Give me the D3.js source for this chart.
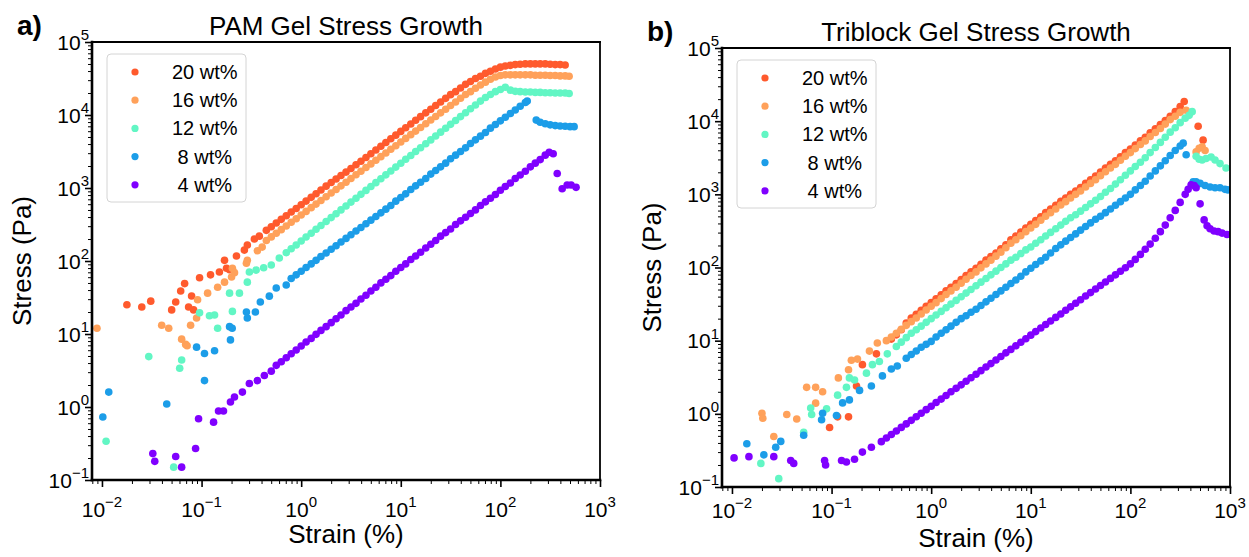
<!DOCTYPE html>
<html>
<head>
<meta charset="utf-8">
<script src="https://cdn.jsdelivr.net/npm/d3@7"></script>
<style>
  body { margin: 0; background: #fff; }
  svg { display: block; font-family: "Liberation Sans", Arial, sans-serif; }
</style>
</head>
<body>
<svg id="chart" width="1249" height="557"></svg>
<script>
// [strain %, stress Pa]
const pam20 = [[0.0178,25.1],[0.0251,23.4],[0.0309,28.2],[0.0501,21.4],[0.055,27.5],[0.0617,38.9],[0.0676,49],[0.0741,23.4],[0.0794,33.1],[0.0832,21.4],[0.0955,58.9],[0.123,64.6],[0.151,70.8],[0.17,102],[0.178,79.4],[0.191,75.9],[0.224,117],[0.269,141],[0.288,166],[0.339,200],[0.38,219],
  [0.447,263],[0.501,295],[0.562,331],[0.631,372],[0.708,417],[0.794,468],[0.891,525],[1,589],[1.12,662],[1.26,745],[1.41,835],[1.58,940],[1.78,1060],[2,1190],[2.24,1330],[2.51,1480],[2.82,1650],[3.16,1850],[3.55,2080],[3.98,2330],[4.47,2620],[5.01,2950],[5.62,3320],[6.31,3740],[7.08,4200],[7.94,4720],[8.91,5300],[10,5960],[11.2,6700],[12.6,7540],[14.1,8460],[15.8,9500],[17.8,10700],[20,12000],[22.4,13500],[25.1,15100],[28.2,16900],[31.6,19000],
  [35.5,20900],[39.8,23400],[44.7,26300],[50.1,28800],[56.2,31600],[63.1,33900],[70.8,37200],[79.4,39800],[89.1,42700],[100,45200],[112,46800],[126,47900],[141,49000],[158,49500],[178,50100],[200,50100],[224,50100],[251,50100],[282,50100],[316,49500],[355,49000],[398,49000],[447,48400]];
const pam16 = [[0.00891,12],[0.0398,13.2],[0.0468,12],[0.0631,8.5],[0.0692,7.2],[0.0716,6.9],[0.0776,13.2],[0.0891,16.6],[0.0912,29.5],[0.115,36.3],[0.145,43.7],[0.17,51.3],[0.2,60.3],[0.204,79.4],[0.214,69.2],[0.282,93.3],[0.288,102],[0.363,138],[0.406,155],
  [0.447,191],[0.501,214],[0.562,240],[0.631,269],[0.708,302],[0.794,339],[0.891,380],[1,427],[1.12,478],[1.26,538],[1.41,602],[1.58,675],[1.78,760],[2,854],[2.24,956],[2.51,1070],[2.82,1200],[3.16,1350],[3.55,1520],[3.98,1700],[4.47,1910],[5.01,2140],[5.62,2400],[6.31,2690],[7.08,3020],[7.94,3390],[8.91,3800],[10,4270],[11.2,4780],[12.6,5380],[14.1,6020],[15.8,6750],[17.8,7600],[20,8540],[22.4,9560],[25.1,10700],[28.2,12000],[31.6,13500],
  [35.5,15100],[39.8,17000],[44.7,19100],[50.1,20900],[56.2,23200],[63.1,25700],[70.8,28200],[79.4,30900],[89.1,33100],[100,34700],[112,35500],[126,35500],[141,35500],[158,35500],[178,35500],[200,35500],[224,35100],[251,35100],[282,35100],[316,34700],[355,34700],[398,34300],[447,34300],[490,33900]];
const pam12 = [[0.011,0.34],[0.0295,4.9],[0.0525,0.15],[0.0603,3.4],[0.0631,4.4],[0.0955,19.5],[0.12,17.8],[0.135,18.2],[0.145,12],[0.191,36.3],[0.204,20.4],[0.24,36.3],[0.288,51.3],[0.302,70.8],[0.353,75],[0.42,81],[0.501,88],[0.603,110],
  [0.708,130],[0.794,147],[0.891,166],[1,188],[1.12,213],[1.26,240],[1.41,272],[1.58,307],[1.78,348],[2,393],[2.24,444],[2.51,501],[2.82,568],[3.16,641],[3.55,725],[3.98,819],[4.47,927],[5.01,1047],[5.62,1183],[6.31,1337],[7.08,1514],[7.94,1710],[8.91,1932],[10,2183],[11.2,2472],[12.6,2793],[14.1,3155],[15.8,3565],[17.8,4036],[20,4560],[22.4,5152],[25.1,5821],[28.2,6592],[31.6,7447],[35.5,8414],[39.8,9506],[44.7,10760],[50.1,12160],[56.2,13740],[63.1,15500],[70.8,17400],[79.4,19100],[89.1,20900],[100,22400],[112,24000],
  [126,21900],[141,21100],[158,20900],[178,20700],[200,20700],[224,20400],[251,20400],[282,20200],[316,20200],[355,20000],[398,20000],[447,20000],[490,19700]];
const pam8 = [[0.0102,0.73],[0.0117,1.6],[0.0447,1.1],[0.0891,6.6],[0.107,5.4],[0.135,5.9],[0.107,2.3],[0.191,12.6],[0.195,8.3],[0.203,12],[0.282,20],[0.288,16.6],[0.347,20],[0.389,27.5],[0.479,33],[0.562,42.7],[0.708,46.8],
  [0.794,57.5],[0.891,64.6],[1,72.4],[1.12,81.3],[1.26,91.2],[1.41,102],[1.58,115],[1.78,129],[2,145],[2.24,162],[2.51,182],[2.82,204],[3.16,229],[3.55,257],[3.98,288],[4.47,324],[5.01,363],[5.62,407],[6.31,457],[7.08,513],[7.94,575],[8.91,661],[10,741],[11.2,832],[12.6,955],[14.1,1070],[15.8,1200],[17.8,1350],[20,1550],[22.4,1740],[25.1,1950],[28.2,2190],[31.6,2510],[35.5,2820],[39.8,3160],[44.7,3550],[50.1,4070],[56.2,4570],[63.1,5130],[70.8,5750],[79.4,6610],[89.1,7410],[100,8320],[112,9330],[126,10500],[141,11700],[158,13200],[178,14800],[186,15500],
  [229,8510],[251,7940],[282,7590],[316,7330],[355,7160],[398,7080],[447,7000],[501,6920],[550,6920]];
const pam4 = [[0.0324,0.23],[0.0339,0.18],[0.055,0.21],[0.0631,0.15],[0.0871,0.27],[0.0933,0.69],[0.132,0.62],[0.148,0.88],[0.166,0.88],[0.195,1.17],[0.214,1.37],[0.257,1.6],[0.302,2.1],[0.363,2.3],[0.427,2.7],[0.501,3.1],
  [0.562,3.72],[0.631,4.17],[0.708,4.73],[0.794,5.37],[0.891,6.03],[1,6.84],[1.12,7.76],[1.26,8.71],[1.41,9.89],[1.58,11.2],[1.78,12.6],[2,14.3],[2.24,16.2],[2.51,18.2],[2.82,20.9],[3.16,23.4],[3.55,26.3],[3.98,30.2],[4.47,33.9],[5.01,38.9],[5.62,43.7],[6.31,50.1],[7.08,56.2],[7.94,63.1],[8.91,72.4],[10,81.3],[11.2,91.2],[12.6,105],[14.1,117],[15.8,132],[17.8,151],[20,170],[22.4,191],[25.1,219],[28.2,245],[31.6,275],[35.5,316],[39.8,355],[44.7,398],[50.1,447],[56.2,501],[63.1,575],[70.8,646],[79.4,724],[89.1,813],[100,933],[112,1050],[126,1170],[141,1350],[158,1510],[178,1700],[200,1950],[224,2190],[251,2450],[282,2820],[309,3090],[339,2950],
  [372,1580],[417,977],[468,1100],[513,1100],[575,1020]];

const tri20 = [[0.0955,0.65],[0.115,0.91],[0.148,0.91],[0.178,2.4],[0.204,4.7],[0.282,6.6],
  [0.398,10.5],[0.447,12],[0.501,14.1],[0.562,17.4],[0.631,20.4],[0.708,22.9],[0.794,26],[0.891,29.5],[1,33.1],[1.12,37.2],[1.26,42.2],[1.41,47.9],[1.58,53.7],[1.78,60.3],[2,68.4],[2.24,77.6],[2.51,87.1],[2.82,97.7],[3.16,111],[3.55,126],[3.98,141],[4.47,158],[5.01,180],[5.62,204],[6.31,240],[7.08,269],[7.94,305],[8.91,347],[10,389],[11.2,437],[12.6,495],[14.1,562],[15.8,631],[17.8,708],[20,804],[22.4,891],[25.1,1000],[28.2,1110],[31.6,1240],[35.5,1410],[39.8,1580],[44.7,1780],[50.1,2020],[56.2,2290],[63.1,2570],[70.8,2880],[79.4,3270],[89.1,3720],[100,4170],[112,4730],[126,5370],[141,6030],[158,6920],[178,7850],[200,9020],[224,10200],[251,11700],[282,13500],[316,15800],[347,18600],
  [479,8510],[537,5500]];
const tri16 = [[0.02,1.02],[0.0204,0.87],[0.0263,0.49],[0.0355,0.98],[0.0447,0.85],[0.0562,2.3],[0.0692,2.3],[0.0692,1.4],[0.0813,2],[0.117,3.1],[0.148,4],[0.158,5.4],[0.182,5.6],[0.24,7.2],[0.288,9.3],[0.355,10],
  [0.398,11.2],[0.447,12.6],[0.501,14.3],[0.562,16.2],[0.631,18.2],[0.708,20.4],[0.794,23.2],[0.891,26.3],[1,29.5],[1.12,33.1],[1.26,37.6],[1.41,42.7],[1.58,47.9],[1.78,53.7],[2,61],[2.24,69.2],[2.51,77.6],[2.82,87.1],[3.16,98.9],[3.55,112],[3.98,126],[4.47,143],[5.01,162],[5.62,186],[6.31,214],[7.08,240],[7.94,272],[8.91,309],[10,347],[11.2,389],[12.6,442],[14.1,501],[15.8,562],[17.8,631],[20,716],[22.4,794],[25.1,891],[28.2,1000],[31.6,1110],[35.5,1260],[39.8,1410],[44.7,1580],[50.1,1800],[56.2,2040],[63.1,2290],[70.8,2570],[79.4,2920],[89.1,3310],[100,3720],[112,4220],[126,4790],[141,5370],[158,6170],[178,7000],[200,7940],[224,9120],[251,10500],[282,11700],[316,13200],[363,14100],
  [457,3800],[490,4270],[525,4470],[562,3980]];
const tri12 = [[0.0195,0.21],[0.0295,0.13],[0.0525,0.56],[0.0617,1.2],[0.0631,0.98],[0.0891,1.17],[0.115,1.8],[0.141,2.3],[0.151,3.1],[0.17,2.9],[0.224,3.6],[0.257,4.7],[0.302,5.2],[0.363,6.6],
  [0.447,8.32],[0.501,9.55],[0.562,11],[0.631,12.6],[0.708,14.1],[0.794,15.8],[0.891,17.8],[1,20],[1.12,22.4],[1.26,25.1],[1.41,28.2],[1.58,31.6],[1.78,35.5],[2,39.8],[2.24,44.7],[2.51,50.1],[2.82,56.2],[3.16,63.1],[3.55,70.8],[3.98,79.4],[4.47,89.1],[5.01,100],[5.62,112],[6.31,126],[7.08,138],[7.94,155],[8.91,174],[10,191],[11.2,214],[12.6,240],[14.1,269],[15.8,302],[17.8,339],[20,380],[22.4,427],[25.1,479],[28.2,525],[31.6,589],[35.5,661],[39.8,741],[44.7,832],[50.1,933],[56.2,1070],[63.1,1200],[70.8,1380],[79.4,1580],[89.1,1820],[100,2090],[112,2400],[126,2750],[141,3160],[158,3720],[178,4370],[200,5130],[224,6030],[251,7080],[282,8130],[316,9550],[355,11000],[389,12000],[417,13500],
  [457,3310],[490,3020],[525,2950],[575,3090],[646,3240],[708,2950],[794,2630],[912,2290]];
const tri8 = [[0.0141,0.39],[0.0209,0.275],[0.0275,0.35],[0.0309,0.42],[0.0525,0.51],[0.0794,0.83],[0.0813,1.02],[0.112,0.95],[0.129,1.41],[0.151,1.55],[0.191,2.09],[0.251,2.4],[0.324,3.3],[0.398,4.1],[0.457,4.5],
  [0.562,5.75],[0.631,6.46],[0.708,7.24],[0.794,8.13],[0.891,8.91],[1,9.77],[1.12,11.2],[1.26,12.6],[1.41,14.1],[1.58,15.8],[1.78,17.8],[2,20],[2.24,21.9],[2.51,24.5],[2.82,26.9],[3.16,30.2],[3.55,33.9],[3.98,38],[4.47,42.7],[5.01,47.9],[5.62,53.7],[6.31,60.3],[7.08,67.6],[7.94,75.9],[8.91,87.1],[10,97.7],[11.2,110],[12.6,123],[14.1,138],[15.8,158],[17.8,182],[20,204],[22.4,229],[25.1,257],[28.2,288],[31.6,324],[35.5,363],[39.8,407],[44.7,457],[50.1,501],[56.2,562],[63.1,631],[70.8,708],[79.4,794],[89.1,891],[100,1000],[112,1150],[126,1320],[141,1510],[158,1780],[178,2090],[200,2450],[224,2880],[251,3390],[282,3980],[316,4570],[339,5010],[363,3470],
  [427,1480],[457,1480],[501,1410],[562,1320],[631,1260],[708,1230],[794,1230],[891,1170],[955,1150]];
const tri4 = [[0.0105,0.25],[0.0148,0.26],[0.0263,0.26],[0.0389,0.23],[0.0417,0.21],[0.0851,0.23],[0.0871,0.2],[0.126,0.23],[0.141,0.22],[0.17,0.24],[0.204,0.3],[0.251,0.35],
  [0.316,0.417],[0.355,0.468],[0.398,0.521],[0.447,0.582],[0.501,0.652],[0.562,0.728],[0.631,0.815],[0.708,0.912],[0.794,1.02],[0.891,1.14],[1,1.27],[1.12,1.43],[1.26,1.59],[1.41,1.78],[1.58,2],[1.78,2.23],[2,2.49],[2.24,2.79],[2.51,3.11],[2.82,3.48],[3.16,3.89],[3.55,4.36],[3.98,4.86],[4.47,5.44],[5.01,6.08],[5.62,6.81],[6.31,7.6],[7.08,8.51],[7.94,9.51],[8.91,10.6],[10,11.9],[11.2,13.3],[12.6,14.9],[14.1,16.6],[15.8,18.6],[17.8,20.8],[20,23.2],[22.4,26],[25.1,29],[28.2,32.5],[31.6,36.3],[35.5,40.7],[39.8,45.4],[44.7,50.8],[50.1,56.8],[56.2,63.5],[63.1,71],[70.8,79.4],[79.4,88.7],[89.1,99.3],[100,112],[112,129],[126,151],[141,178],[158,209],[178,251],[200,309],[224,380],[251,479],[282,603],[316,776],[355,1000],[380,1170],[407,1350],[437,1320],[457,1230],
  [501,741],[550,447],[589,372],[631,339],[692,316],[759,309],[832,295],[933,282]];

const seriesLabels = ["20 wt%", "16 wt%", "12 wt%", "\u00a08 wt%", "\u00a04 wt%"];
const seriesColors = ["#ff5a2d", "#ffa15a", "#62f6c4", "#1c9de8", "#8000ff"];
const xTickExponents = [-2, -1, 0, 1, 2, 3];
const yTickExponents = [-1, 0, 1, 2, 3, 4, 5];

const panels = [
    { tag: "a)", title: "PAM Gel Stress Growth", series: [pam20, pam16, pam12, pam8, pam4],
      left: 92, top: 42, right: 600, bottom: 480,
      tagX: 17, tagY: 35, yLabelX: 31, tickLabelY: 517, xLabelY: 543 },
    { tag: "b)", title: "Triblock Gel Stress Growth", series: [tri20, tri16, tri12, tri8, tri4],
      left: 722, top: 48, right: 1230, bottom: 487,
      tagX: 647, tagY: 41, yLabelX: 661, tickLabelY: 518, xLabelY: 547 },
];

const svg = d3.select("#chart");
const isPow10 = (v) => Math.abs(Math.log10(v) - Math.round(Math.log10(v))) < 1e-6;
const minus = (e) => (e < 0 ? "\u2212" + Math.abs(e) : String(e));

panels.forEach((p, pi) => {
    const x = d3.scaleLog().domain([Math.pow(10, -2.1), 1000]).range([p.left, p.right]);
    const y = d3.scaleLog().domain([0.1, 1e5]).range([p.bottom, p.top]);
    const g = svg.append("g");

    svg.append("clipPath").attr("id", "clip" + pi)
        .append("rect")
        .attr("x", p.left).attr("y", p.top)
        .attr("width", p.right - p.left).attr("height", p.bottom - p.top);

    // markers
    const plot = g.append("g").attr("clip-path", `url(#clip${pi})`);
    p.series.forEach((data, si) => {
        plot.append("g")
            .selectAll("circle")
            .data(data)
            .join("circle")
            .attr("cx", (d) => x(d[0]))
            .attr("cy", (d) => y(d[1]))
            .attr("r", 3.8)
            .attr("fill", seriesColors[si]);
    });

    // ticks
    const xMajor = xTickExponents.map((e) => Math.pow(10, e));
    const yMajor = yTickExponents.map((e) => Math.pow(10, e));
    const xMinor = x.ticks().filter((v) => !isPow10(v));
    const yMinor = y.ticks().filter((v) => !isPow10(v));

    const tickStyle = (sel, w) => {
        sel.select(".domain").remove();
        sel.selectAll("text").remove();
        sel.selectAll("line").attr("stroke", "#000").attr("stroke-width", w);
    };

    g.append("g").attr("transform", `translate(0,${p.bottom})`)
        .call(d3.axisBottom(x).tickValues(xMinor).tickSize(4).tickFormat(""))
        .call(tickStyle, 1);
    g.append("g").attr("transform", `translate(0,${p.bottom})`)
        .call(d3.axisBottom(x).tickValues(xMajor).tickSize(7).tickFormat(""))
        .call(tickStyle, 1.6);
    g.append("g").attr("transform", `translate(${p.left},0)`)
        .call(d3.axisLeft(y).tickValues(yMinor).tickSize(4).tickFormat(""))
        .call(tickStyle, 1);
    g.append("g").attr("transform", `translate(${p.left},0)`)
        .call(d3.axisLeft(y).tickValues(yMajor).tickSize(7).tickFormat(""))
        .call(tickStyle, 1.6);

    // tick labels 10^n
    xTickExponents.forEach((e) => {
        const t = g.append("text")
            .attr("x", x(Math.pow(10, e)))
            .attr("y", p.tickLabelY)
            .attr("text-anchor", "middle")
            .attr("font-size", 21);
        t.append("tspan").text("10");
        t.append("tspan").attr("dy", -10).attr("font-size", 15).text(minus(e));
    });
    yTickExponents.forEach((e) => {
        const t = g.append("text")
            .attr("x", p.left - 3)
            .attr("y", y(Math.pow(10, e)) + 7.5)
            .attr("text-anchor", "end")
            .attr("font-size", 21);
        t.append("tspan").text("10");
        t.append("tspan").attr("dy", -9.5).attr("font-size", 15).text(minus(e));
    });

    // frame
    const frame = [
        [p.left, p.bottom, p.right, p.bottom, 2.6],
        [p.left, p.top, p.left, p.bottom, 2.6],
        [p.left, p.top, p.right, p.top, 1.8],
        [p.right, p.top, p.right, p.bottom, 1.8],
    ];
    frame.forEach((f) => {
        g.append("line")
            .attr("x1", f[0]).attr("y1", f[1]).attr("x2", f[2]).attr("y2", f[3])
            .attr("stroke", "#000").attr("stroke-width", f[4])
            .attr("stroke-linecap", "square");
    });

    // legend
    const lg = g.append("g").attr("transform", `translate(${p.left + 15},${p.top + 12})`);
    lg.append("rect")
        .attr("width", 139).attr("height", 148).attr("rx", 4)
        .attr("fill", "#fff").attr("fill-opacity", 0.8)
        .attr("stroke", "#d4d4d4").attr("stroke-width", 1);
    seriesLabels.forEach((label, i) => {
        const cy = 18 + i * 28.2;
        lg.append("circle").attr("cx", 28).attr("cy", cy).attr("r", 3.6).attr("fill", seriesColors[i]);
        lg.append("text").attr("x", 65).attr("y", cy + 7).attr("font-size", 20).text(label);
    });

    // titles and labels
    g.append("text")
        .attr("x", (p.left + p.right) / 2).attr("y", p.top - 7)
        .attr("text-anchor", "middle").attr("font-size", 26)
        .text(p.title);
    g.append("text")
        .attr("x", p.tagX).attr("y", p.tagY)
        .attr("font-size", 28).attr("font-weight", "bold")
        .text(p.tag);
    g.append("text")
        .attr("x", (p.left + p.right) / 2).attr("y", p.xLabelY)
        .attr("text-anchor", "middle").attr("font-size", 26)
        .text("Strain (%)");
    g.append("text")
        .attr("transform", `translate(${p.yLabelX},${(p.top + p.bottom) / 2}) rotate(-90)`)
        .attr("text-anchor", "middle").attr("font-size", 26)
        .text("Stress (Pa)");
});
</script>
</body>
</html>
